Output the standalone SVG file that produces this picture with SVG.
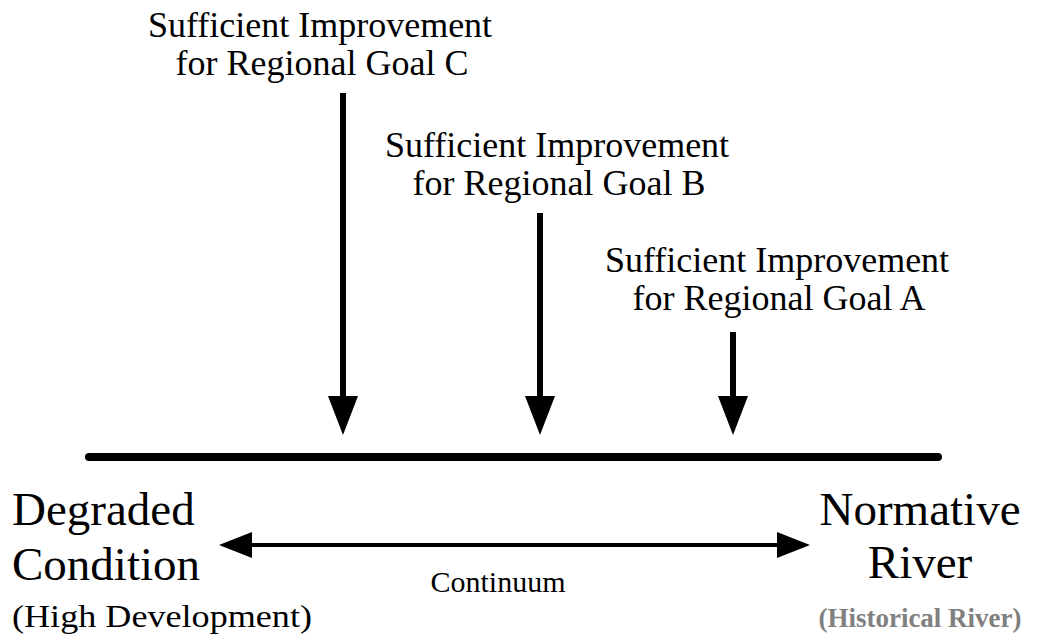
<svg xmlns="http://www.w3.org/2000/svg" width="1040" height="637" viewBox="0 0 1040 637" font-family="'Liberation Serif', 'Times New Roman', serif">
  <style>
    text { font-family: 'Liberation Serif', 'Times New Roman', serif; fill: #000; }
    .goal { font-size: 36px; text-anchor: middle; }
    .end { font-size: 47px; }
    .mid { text-anchor: middle; }
    .sub { font-size: 32px; }
    .hist { font-size: 27px; font-weight: bold; fill: #808080; text-anchor: middle; }
    .cont { font-size: 30px; text-anchor: middle; }
    .shaft { stroke: #000; stroke-width: 6; fill: none; }
    .axis { stroke: #000; stroke-width: 8; stroke-linecap: round; fill: none; }
    .span { stroke: #000; stroke-width: 4; fill: none; }
    .head { fill: #000; }
  </style>
  <rect width="1040" height="637" fill="#fff"/>

  <!-- goal labels -->
  <g id="goal-c">
    <text class="goal" x="320" y="37">Sufficient Improvement</text>
    <text class="goal" x="322" y="75">for Regional Goal C</text>
  </g>
  <g id="goal-b">
    <text class="goal" x="557" y="157">Sufficient Improvement</text>
    <text class="goal" x="559" y="195">for Regional Goal B</text>
  </g>
  <g id="goal-a">
    <text class="goal" x="777" y="272">Sufficient Improvement</text>
    <text class="goal" x="779" y="310">for Regional Goal A</text>
  </g>

  <!-- continuum ends -->
  <g id="degraded">
    <text class="end" x="12" y="525">Degraded</text>
    <text class="end" x="12" y="580">Condition</text>
    <text class="sub" x="12" y="627" textLength="300" lengthAdjust="spacingAndGlyphs">(High Development)</text>
  </g>
  <g id="normative">
    <text class="end mid" x="920" y="525">Normative</text>
    <text class="end mid" x="920" y="578">River</text>
    <text class="hist" x="920" y="627">(Historical River)</text>
  </g>
  <g id="continuum">
    <text class="cont" x="498" y="592">Continuum</text>
  </g>

  <!-- connectors -->
  <g id="connectors">
    <line class="axis" x1="89" y1="457" x2="938" y2="457"/>

    <line class="shaft" x1="343" y1="93" x2="343" y2="398"/>
    <polygon class="head" points="328,396 358,396 343,435"/>

    <line class="shaft" x1="540" y1="213" x2="540" y2="398"/>
    <polygon class="head" points="525,396 555,396 540,435"/>

    <line class="shaft" x1="733" y1="332" x2="733" y2="398"/>
    <polygon class="head" points="718,396 748,396 733,435"/>

    <line class="span" x1="250" y1="545" x2="779" y2="545"/>
    <polygon class="head" points="219,545 252,532 252,558"/>
    <polygon class="head" points="810,545 777,532 777,558"/>
  </g>
</svg>
